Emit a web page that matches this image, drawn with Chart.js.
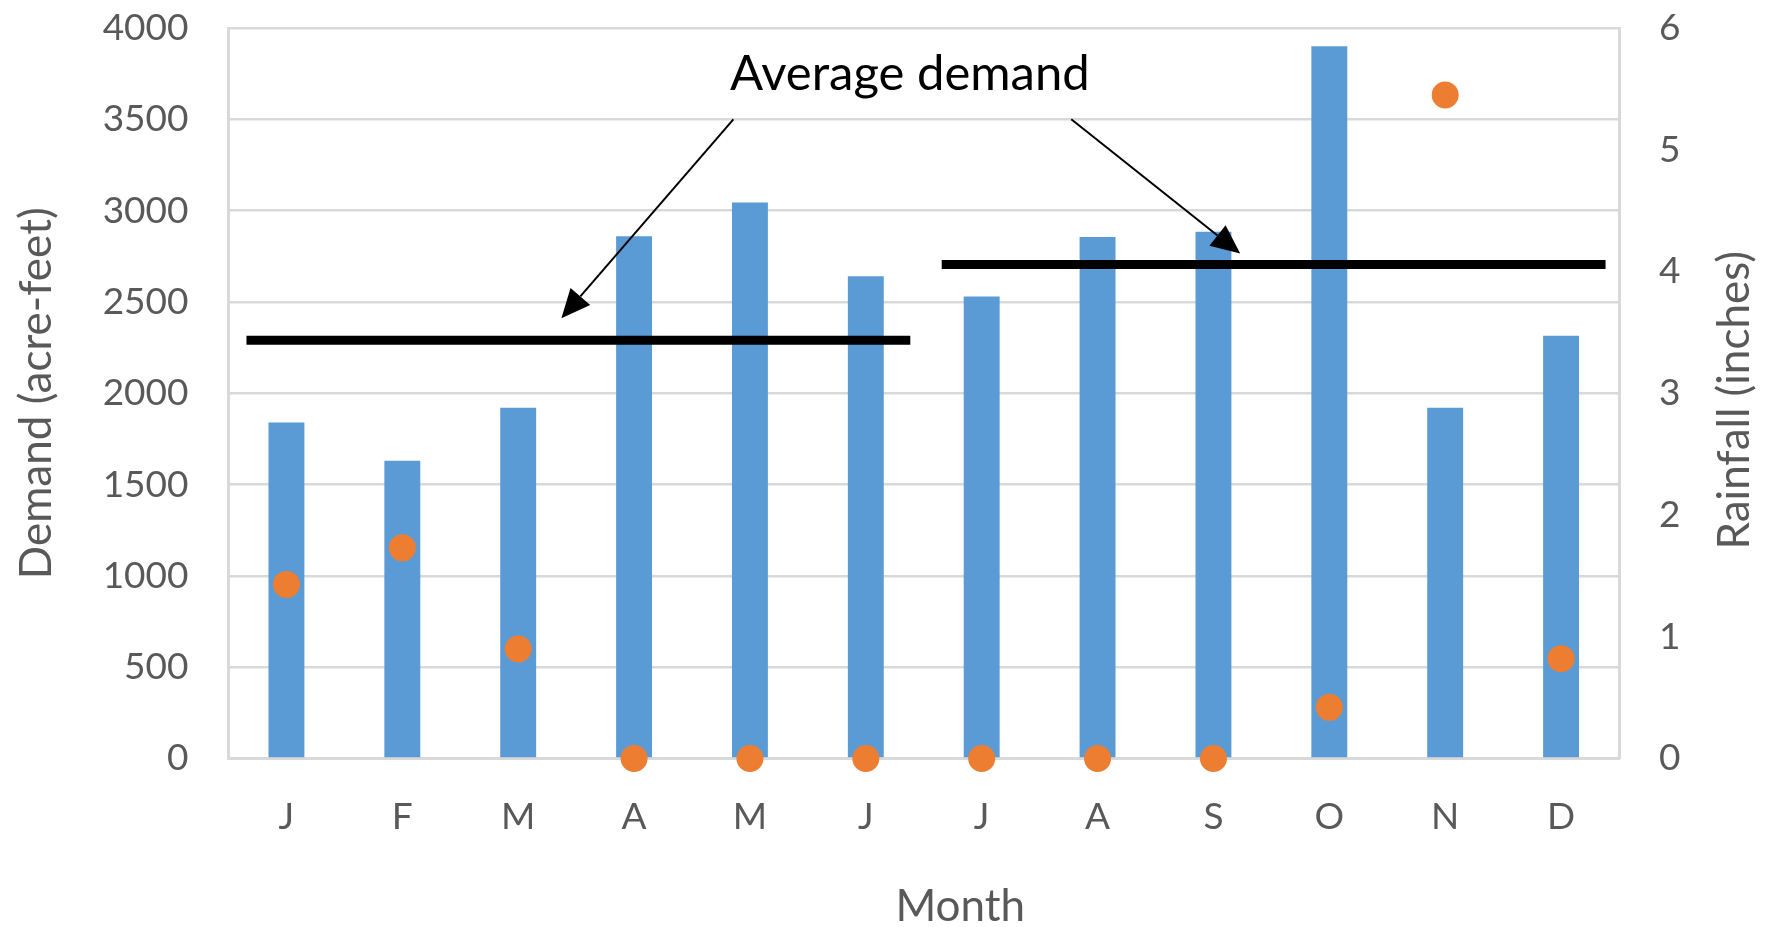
<!DOCTYPE html>
<html>
<head>
<meta charset="utf-8">
<script src="https://cdn.jsdelivr.net/npm/chart.js@4"></script>
<style>
  html, body { margin: 0; padding: 0; background: #ffffff; }
  #wrap { width: 1772px; height: 927px; }
</style>
</head>
<body>
<div id="wrap"><canvas id="c" width="1772" height="927"></canvas></div>
<script>
// Monthly water demand with rainfall, plus half-year average demand
const months = ['J', 'F', 'M', 'A', 'M', 'J', 'J', 'A', 'S', 'O', 'N', 'D'];
const demand = [1840, 1630, 1920, 2860, 3045, 2640, 2530, 2855, 2885, 3900, 1920, 2315];
const rainfall = [1.43, 1.73, 0.90, 0, 0, 0, 0, 0, 0, 0.42, 5.45, 0.82];
const halfYearAverages = [2290, 2705];
const demandTicks = [0, 500, 1000, 1500, 2000, 2500, 3000, 3500, 4000];
const rainfallTicks = [0, 1, 2, 3, 4, 5, 6];

const FONT = 'Lato';
const TEXT_GREY = '#595959';
const GRID_GREY = '#d9d9d9';

// average lines span each half of the year, slightly past the outer bars
function halfSpan(first, last, avg) {
  return [{ x: first - 0.345, y: avg }, { x: last + 0.384, y: avg }];
}

// callout text and arrows, placed in data units
const calloutText = 'Average demand';
const calloutAnchor = { x: 5.38, y: 3662 };
const calloutArrows = [
  { from: { x: 3.857, y: 3500 }, to: { x: 2.373, y: 2410 } },
  { from: { x: 6.773, y: 3500 }, to: { x: 8.231, y: 2765 } }
];

const calloutPlugin = {
  id: 'callout',
  afterDatasetsDraw(chart) {
    const xs = chart.scales.xl, ys = chart.scales.y;
    const area = chart.chartArea;
    const ctx = chart.ctx;
    ctx.save();
    ctx.fillStyle = '#000';
    ctx.font = '49px ' + FONT;
    ctx.textAlign = 'center';
    ctx.textBaseline = 'alphabetic';
    ctx.fillText(calloutText, xs.getPixelForValue(calloutAnchor.x), ys.getPixelForValue(calloutAnchor.y));

    ctx.strokeStyle = '#000';
    ctx.lineWidth = 2;
    calloutArrows.forEach(a => {
      const x0 = xs.getPixelForValue(a.from.x), y0 = ys.getPixelForValue(a.from.y);
      const x1 = xs.getPixelForValue(a.to.x), y1 = ys.getPixelForValue(a.to.y);
      const ang = Math.atan2(y1 - y0, x1 - x0);
      const headLen = 29, headHalf = 13;
      const bx = x1 - headLen * Math.cos(ang), by = y1 - headLen * Math.sin(ang);
      ctx.beginPath();
      ctx.moveTo(x0, y0);
      ctx.lineTo(bx, by);
      ctx.stroke();
      ctx.beginPath();
      ctx.moveTo(x1, y1);
      ctx.lineTo(bx + headHalf * Math.sin(ang), by - headHalf * Math.cos(ang));
      ctx.lineTo(bx - headHalf * Math.sin(ang), by + headHalf * Math.cos(ang));
      ctx.closePath();
      ctx.fill();
    });

    // axis titles: month below, rainfall on the right reading upward
    ctx.fillStyle = TEXT_GREY;
    ctx.font = '44px ' + FONT;
    ctx.fillText('Month', xs.getPixelForValue(5.815), area.bottom + 162);

    ctx.translate(chart.width - 37, (area.top + area.bottom) / 2 + 7);
    ctx.rotate(-Math.PI / 2);
    ctx.textBaseline = 'middle';
    ctx.fillText('Rainfall (inches)', 0, 0);
    ctx.restore();
  }
};

function noEdgePadding(s) {
  s.paddingTop = 0;
  s.paddingBottom = 0;
}

new Chart(document.getElementById('c'), {
  data: {
    labels: months,
    datasets: [
      {
        type: 'scatter',
        label: 'Rainfall',
        data: rainfall,
        xAxisID: 'x',
        yAxisID: 'y1',
        showLine: false,
        pointRadius: 13.5,
        pointBackgroundColor: '#ed7d31',
        pointBorderWidth: 0,
        clip: false,
        order: 1
      },
      {
        type: 'line',
        label: 'First half average',
        data: halfSpan(0, 5, halfYearAverages[0]),
        xAxisID: 'xl',
        yAxisID: 'y',
        borderColor: '#000',
        borderWidth: 9,
        borderCapStyle: 'butt',
        pointRadius: 0,
        order: 2
      },
      {
        type: 'line',
        label: 'Second half average',
        data: halfSpan(6, 11, halfYearAverages[1]),
        xAxisID: 'xl',
        yAxisID: 'y',
        borderColor: '#000',
        borderWidth: 9,
        borderCapStyle: 'butt',
        pointRadius: 0,
        order: 2
      },
      {
        type: 'bar',
        label: 'Demand',
        data: demand,
        xAxisID: 'x',
        yAxisID: 'y',
        backgroundColor: '#5b9bd5',
        grouped: false,
        categoryPercentage: 1,
        barPercentage: 0.31,
        order: 3
      }
    ]
  },
  options: {
    responsive: false,
    animation: false,
    devicePixelRatio: 1,
    layout: { padding: { top: 28, left: 0, right: 0, bottom: 0 } },
    plugins: { legend: { display: false }, tooltip: { enabled: false } },
    scales: {
      x: {
        type: 'category',
        offset: true,
        grid: { display: false, drawTicks: false },
        border: { display: true, color: GRID_GREY, width: 3 },
        ticks: { color: TEXT_GREY, font: { family: FONT, size: 37 }, padding: 36 },
        afterFit(s) { s.height = 168.5; }
      },
      xl: {
        type: 'linear',
        display: false,
        min: -0.5,
        max: 11.5
      },
      y: {
        type: 'linear',
        position: 'left',
        min: demandTicks[0],
        max: demandTicks[demandTicks.length - 1],
        afterBuildTicks(s) { s.ticks = demandTicks.map(v => ({ value: v })); },
        grid: { color: GRID_GREY, lineWidth: 2.5, drawTicks: false },
        border: { display: true, color: GRID_GREY, width: 3 },
        ticks: {
          color: TEXT_GREY,
          font: { family: FONT, size: 37 },
          padding: 40,
          callback: v => String(v)
        },
        title: {
          display: true,
          text: 'Demand (acre-feet)',
          color: TEXT_GREY,
          font: { family: FONT, size: 44 },
          padding: { top: 10, bottom: 0 }
        },
        afterFit(s) { s.width = 228.5; noEdgePadding(s); }
      },
      y1: {
        type: 'linear',
        position: 'right',
        min: rainfallTicks[0],
        max: rainfallTicks[rainfallTicks.length - 1],
        afterBuildTicks(s) { s.ticks = rainfallTicks.map(v => ({ value: v })); },
        grid: { drawOnChartArea: false, drawTicks: false },
        border: { display: true, color: GRID_GREY, width: 3 },
        ticks: {
          color: TEXT_GREY,
          font: { family: FONT, size: 37 },
          padding: 40,
          callback: v => String(v)
        },
        afterFit(s) { s.width = 153; noEdgePadding(s); }
      }
    }
  },
  plugins: [calloutPlugin]
});
</script>
</body>
</html>
